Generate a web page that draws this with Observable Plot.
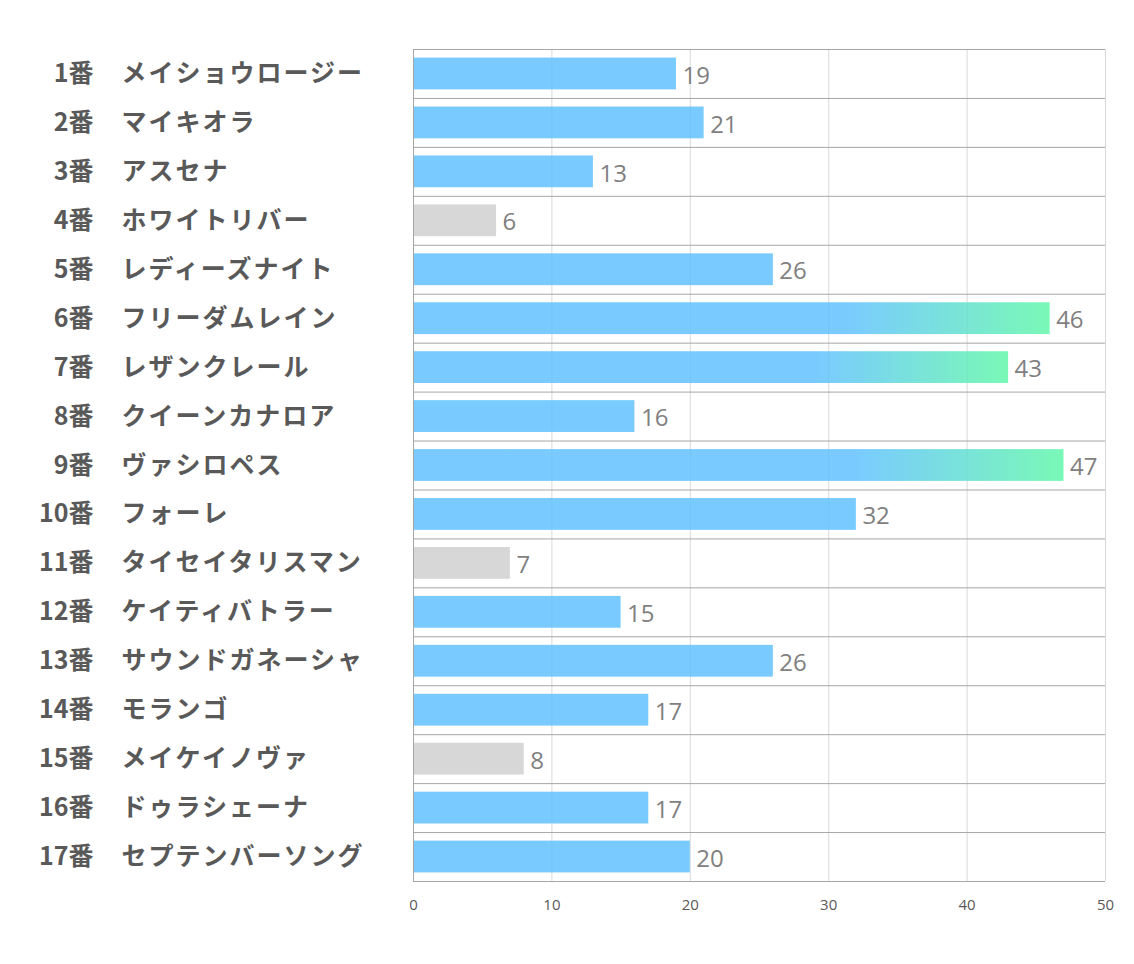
<!DOCTYPE html>
<html>
<head>
<meta charset="utf-8">
<script src="https://cdn.jsdelivr.net/npm/d3@7"></script>
<script src="https://cdn.jsdelivr.net/npm/@observablehq/plot@0.6"></script>
<style>
  html, body { margin: 0; padding: 0; background: #fff; }
  #chart svg { display: block; }
  #chart text.hname { letter-spacing: 2px; }
</style>
</head>
<body>
<div id="chart"></div>
<script>
const numbers = ["1番","2番","3番","4番","5番","6番","7番","8番","9番","10番","11番","12番","13番","14番","15番","16番","17番"];
const names = ["メイショウロージー","マイキオラ","アスセナ","ホワイトリバー","レディーズナイト","フリーダムレイン","レザンクレール","クイーンカナロア","ヴァシロペス","フォーレ","タイセイタリスマン","ケイティバトラー","サウンドガネーシャ","モランゴ","メイケイノヴァ","ドゥラシェーナ","セプテンバーソング"];
const values = [19,21,13,6,26,46,43,16,47,32,7,15,26,17,8,17,20];
const xTicks = [0,10,20,30,40,50];

const data = numbers.map((n, i) => ({num: n, name: names[i], key: n, value: values[i]}));
const blue = data.filter(d => d.value >= 10 && d.value < 40);
const gray = data.filter(d => d.value < 10);
const hi = data.filter(d => d.value >= 40);

const W = 1134, H = 964;
const mTop = 49, mBottom = 83, mLeft = 413, mRight = 29;
const step = (H - mTop - mBottom) / numbers.length;

const defs = () => {
  const d = d3.create("svg:defs");
  const g = d.append("linearGradient").attr("id", "hiGrad")
    .attr("x1", "0").attr("x2", "1").attr("y1", "0").attr("y2", "0");
  g.append("stop").attr("offset", "0").attr("stop-color", "#62c2ff");
  g.append("stop").attr("offset", "0.68").attr("stop-color", "#62c2ff");
  g.append("stop").attr("offset", "1").attr("stop-color", "#62f7aa");
  return d.node();
};

const labelFont = "'Noto Sans CJK JP', 'Noto Sans', sans-serif";
const numFont = "'Open Sans', 'Noto Sans', sans-serif";

const chart = Plot.plot({
  width: W,
  height: H,
  marginTop: mTop,
  marginBottom: mBottom,
  marginLeft: mLeft,
  marginRight: mRight,
  style: {background: "#fff", overflow: "visible"},
  x: {domain: [0, 50], axis: null},
  y: {domain: numbers, paddingInner: 0.35, paddingOuter: 0.175, round: false, axis: null},
  marks: [
    defs,
    Plot.ruleX(xTicks, {stroke: "#d9d9d9", strokeWidth: 1}),
    Plot.barX(blue, {x: "value", y: "key", fill: "#62c2ff", fillOpacity: 0.85}),
    Plot.barX(gray, {x: "value", y: "key", fill: "#d0d0d0", fillOpacity: 0.85}),
    Plot.barX(hi, {x: "value", y: "key", fill: "url(#hiGrad)", fillOpacity: 0.85}),
    Plot.ruleY(numbers, {y: d => d, dy: -step / 2, stroke: "#a6a6a6", strokeWidth: 1}),
    Plot.ruleY([numbers[numbers.length - 1]], {y: d => d, dy: step / 2, stroke: "#a6a6a6", strokeWidth: 1}),
    Plot.ruleX([0], {stroke: "#a6a6a6", strokeWidth: 1}),
    Plot.text(data, {x: "value", y: "key", text: d => String(d.value), textAnchor: "start", dx: 6, dy: 2,
      fill: "#7f7f7f", fontSize: 24, fontFamily: numFont}),
    Plot.text(data, {y: "key", text: "num", frameAnchor: "left", textAnchor: "end", dx: -320, dy: 0,
      fill: "#595959", fontSize: 25, fontWeight: "bold", fontFamily: labelFont}),
    Plot.text(data, {y: "key", text: "name", frameAnchor: "left", textAnchor: "start", dx: -292, dy: 0,
      fill: "#595959", fontSize: 25, fontWeight: "bold", fontFamily: labelFont}),
    Plot.axisX(xTicks, {tickSize: 0, tickPadding: 0, dy: 18, anchor: "bottom", label: null,
      fontSize: 15, fill: "#595959", fontFamily: numFont})
  ]
});

d3.select(chart).selectAll("text")
  .filter(function() { return names.includes(this.textContent); })
  .classed("hname", true);

document.getElementById("chart").appendChild(chart);
</script>
</body>
</html>
